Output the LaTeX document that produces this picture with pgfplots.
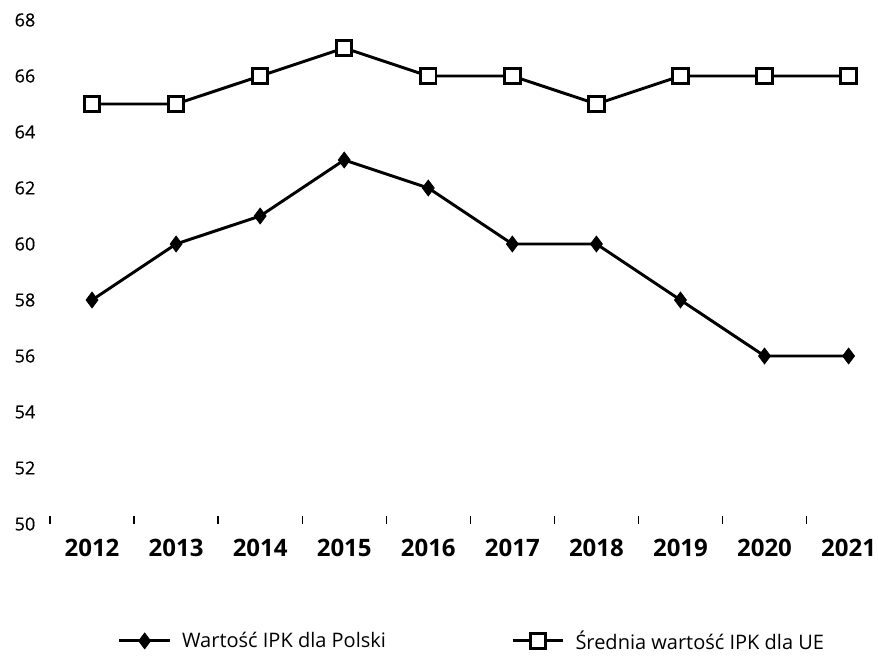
\documentclass[border=0pt]{standalone}
\usepackage{fontspec}
\setmainfont{Open Sans}
\usepackage{pgfplots}
\pgfplotsset{compat=1.18}
\begin{document}
\begin{tikzpicture}[x=0.75pt,y=0.75pt]
\path[use as bounding box] (-50,-133) rectangle (828,524);
\begin{axis}[
  at={(0,0)}, anchor=south west,
  scale only axis, width=621pt, height=378pt,
  xmin=-0.5, xmax=9.35, ymin=50, ymax=68,
  axis line style={draw=none},
  xtick pos=lower, ytick pos=left,
  xtick={0,...,9},
  xticklabels={2012,2013,2014,2015,2016,2017,2018,2019,2020,2021},
  minor xtick={-0.5,0.5,...,8.5},
  major tick length=0pt,
  minor tick length=6pt,
  tick align=inside,
  minor tick style={black, line width=1pt},
  x tick label style={font=\fontsize{18}{20}\selectfont\bfseries, yshift=-8pt},
  ytick={50,52,...,68},
  y tick label style={font=\fontsize{13.5}{15}\selectfont\addfontfeature{FakeBold=0.5}, anchor=west, xshift=-30pt},
  /pgf/number format/assume math mode=true,
  yticklabel style={/pgf/number format/fixed},
  legend columns=2,
  legend style={draw=none, at={(0.51,-0.232)}, anchor=center, font=\fontsize{15}{17}\selectfont,
    /tikz/every odd column/.append style={column sep=6pt},
    /tikz/every even column/.append style={column sep=92pt}},
  legend image code/.code={\draw[mark repeat=2,mark phase=2] plot coordinates {(0pt,0pt) (19pt,0pt) (38pt,0pt)};},
]
\addplot[black, line width=2.2pt, mark=diamond*, mark size=6pt, mark options={fill=black, line width=0.5pt}]
  coordinates {(0,58) (1,60) (2,61) (3,63) (4,62) (5,60) (6,60) (7,58) (8,56) (9,56)};
\addlegendentry{Wartość IPK dla Polski}
\addplot[black, line width=2.2pt, mark=square*, mark size=5.8pt, mark options={fill=white, line width=2.2pt}]
  coordinates {(0,65) (1,65) (2,66) (3,67) (4,66) (5,66) (6,65) (7,66) (8,66) (9,66)};
\addlegendentry{Średnia wartość IPK dla UE}
\end{axis}
\end{tikzpicture}
\end{document}
